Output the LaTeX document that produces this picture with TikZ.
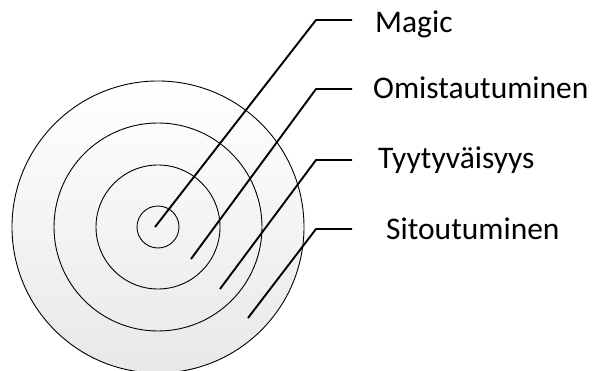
\documentclass[tikz,border=0pt]{standalone}
\usepackage{fontspec}
\setmainfont{Carlito}
\usetikzlibrary{positioning,calc}
\definecolor{ringgray}{HTML}{E8E8E8}
\tikzset{ring/.style={draw=black,line width=.9pt},
  leader/.style={line width=1.9pt,line join=round},
  lbl/.style={anchor=base west,inner sep=0pt,font=\fontsize{31.5}{36}\selectfont}}

\begin{document}
\begin{tikzpicture}[x=1pt,y=1pt]
\useasboundingbox (0,0) rectangle (594,371);\clip (0,0) rectangle (594,371);
\coordinate (c) at (158,144);
\shade[top color=white,middle color=white!96!ringgray,bottom color=ringgray,ring] (c) circle (146);
\foreach \r in {104,62,21} \draw[ring] (c) circle (\r);
\node[lbl] (magic) at (375,338) {Magic};
\node[lbl] (omis) at (373,272) {Omistautuminen};
\node[lbl] (tyyt) at (378,202) {Tyytyväisyys};
\node[lbl] (sito) at (386,131) {Sitoutuminen};
\coordinate (t1) at (155,144);\coordinate (e1) at (316,351);\coordinate (h1) at (352,351);
\coordinate (t2) at (191,112);\coordinate (e2) at (316,282);\coordinate (h2) at (352,282);
\coordinate (t3) at (220,82);\coordinate (e3) at (316,211);\coordinate (h3) at (352,211);
\coordinate (t4) at (248,53);\coordinate (e4) at (316,142);\coordinate (h4) at (352,142);
\foreach \i in {1,...,4} \draw[leader] (t\i)--(e\i)--(h\i);
\end{tikzpicture}
\end{document}
